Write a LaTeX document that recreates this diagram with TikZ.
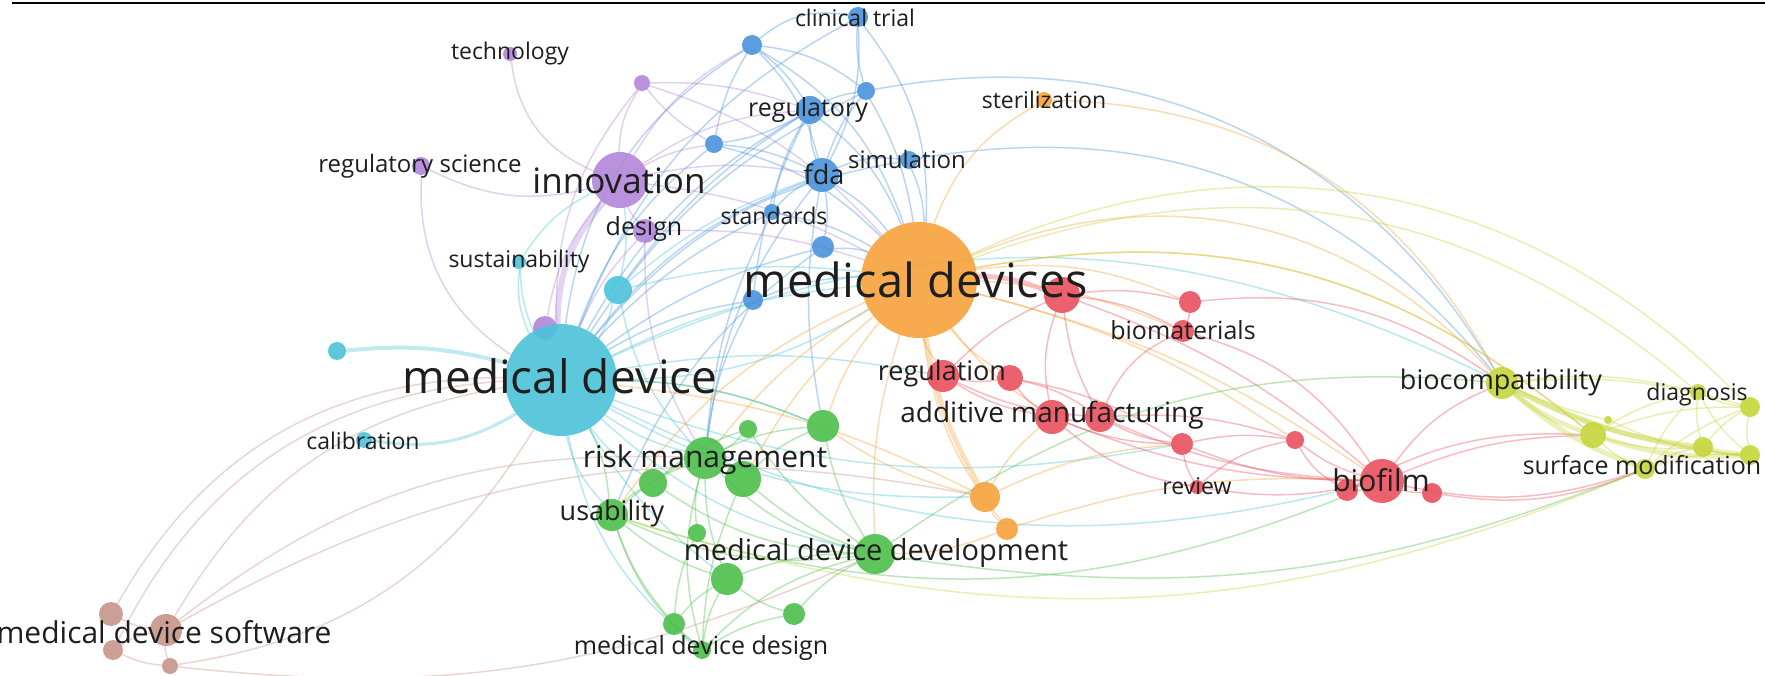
\documentclass[tikz,border=0pt]{standalone}
\usepackage{fontspec}
\setmainfont{Open Sans}
\usetikzlibrary{calc}
\definecolor{ink}{HTML}{1E1E1E}
\definecolor{cya}{HTML}{4CC3D9}
\definecolor{ora}{HTML}{F7A23B}
\definecolor{pur}{HTML}{B286D9}
\definecolor{blu}{HTML}{4A93DB}
\definecolor{red}{HTML}{E9505E}
\definecolor{gre}{HTML}{4DBE4B}
\definecolor{yel}{HTML}{C6D53A}
\definecolor{bro}{HTML}{C7958A}
\pgfdeclarelayer{edges}
\pgfsetlayers{edges,main}
\newcommand\fsz[1]{\fontsize{#1}{#1}\selectfont}
\tikzset{
  kw/.style={circle, inner sep=0pt, draw=none, fill opacity=0.9},
  lab/.style={text=ink, inner sep=0pt},
  link/.style={line width=1.5pt, draw opacity=0.38, line cap=round},
  heavy/.style={link, line width=5pt, draw opacity=0.35},
}

\begin{document}
\begin{tikzpicture}[x=1pt,y=-1pt]
  \useasboundingbox (0,0) rectangle (1765,676);
  % keywords, one loop per cluster
  \foreach \n/\px/\py/\r in {tech/510/54/7,psm/642/83/8,regsci/421/166/9,innov/620/180/28,design/645/231/12,ppk/545/328/12}
    \node[kw, fill=pur, minimum size=\r*2pt] (\n) at (\px,\py) {};
  \foreach \n/\px/\py/\r in {clin/858/17/10,btop/752/45/10,bb2/866/91/9,regul/810/110/14,bb3/714/144/9,fda/822/175/17,simul/909/160/9,stand/772/212/8,bb4/823/247/11,bb5/753/300/10}
    \node[kw, fill=blu, minimum size=\r*2pt] (\n) at (\px,\py) {};
  \foreach \n/\px/\py/\r in {md/561/380/56,sust/519/262/7,cc1/618/290/14,cleft/337/351/9,calib/364/440/8}
    \node[kw, fill=cya, minimum size=\r*2pt] (\n) at (\px,\py) {};
  \foreach \n/\px/\py/\r in {mds/919/280/58,steril/1044/100/8,oo1/985/497/15,oo2/1007/529/11}
    \node[kw, fill=ora, minimum size=\r*2pt] (\n) at (\px,\py) {};
  \foreach \n/\px/\py/\r in {rr1/1062/295/18,rr2/1190/302/11,biomat/1183/331/11,regn/943/376/16,rr3/1010/378/13,addm/1052/417/17,rr4/1100/417/15,rr5/1182/444/11,rr6/1295/440/9,review/1197/487/7,biof/1382/481/22,rr7/1347/490/11,rr8/1432/493/10}
    \node[kw, fill=red, minimum size=\r*2pt] (\n) at (\px,\py) {};
  \foreach \n/\px/\py/\r in {gg1/823/426/16,gg2/748/429/9,risk/705/458/21,gg3/743/479/18,gg4/653/483/14,usab/612/515/16,gg5/697/533/9,mdd/875/554/20,gg6/727/579/16,gg7/794/614/11,gg8/674/624/11,mddes/702/650/9}
    \node[kw, fill=gre, minimum size=\r*2pt] (\n) at (\px,\py) {};
  \foreach \n/\px/\py/\r in {biocomp/1502/383/16,diag/1698/392/8,yy1/1750/407/10,yy2/1593/435/13,yy3/1703/447/10,yy4/1750/455/10,surf/1645/469/10,yy5/1608/420/4}
    \node[kw, fill=yel, minimum size=\r*2pt] (\n) at (\px,\py) {};
  \foreach \n/\px/\py/\r in {bw1/111/614/12,mdsw/166/630/16,bw2/113/650/10,bw3/170/666/8}
    \node[kw, fill=bro, minimum size=\r*2pt] (\n) at (\px,\py) {};

  \begin{pgfonlayer}{edges}
    \fill[white] (0,0) rectangle (1765,676);
    % purple
    \draw[heavy, draw=pur, line width=6pt] (innov) to[bend right=20] (md);
    \foreach \a/\b/\t in {tech/innov/30,regsci/innov/20,regsci/md/30,psm/innov/15,psm/regul/-10,psm/md/20,psm/mds/-15,psm/bb3/10,innov/design/10,innov/fda/-10,innov/mds/-10,innov/regul/-15,innov/btop/-15,innov/bb3/-10,design/md/10,design/mds/-10,design/risk/15,ppk/md/10,ppk/innov/-15}
      \draw[link, draw=pur] (\a) to[bend right=\t] (\b);
    % blue
    \foreach \a/\b/\t in {clin/btop/25,clin/fda/-15,clin/mds/-20,clin/md/20,clin/bb2/10,btop/regul/-10,btop/fda/-15,btop/md/25,btop/mds/-20,btop/bb2/-15,btop/bb3/10,bb2/regul/10,bb2/fda/10,bb2/mds/-10,bb2/md/15,bb2/biocomp/-35,regul/fda/10,regul/md/15,regul/mds/-15,regul/stand/10,regul/bb3/-10,regul/bb5/10,regul/cc1/10,bb3/fda/-10,bb3/md/15,bb3/mds/-15,fda/mds/-10,fda/md/15,fda/stand/10,fda/bb4/-10,fda/simul/-15,fda/gg1/10,fda/risk/15,simul/mds/-10,simul/md/20,simul/biocomp/-30,stand/md/10,stand/mds/-10,stand/risk/10,bb4/md/10,bb4/mds/-10,bb4/usab/15,bb5/md/10,bb5/mds/-10,bb5/risk/10}
      \draw[link, draw=blu] (\a) to[bend right=\t] (\b);
    % cyan
    \draw[heavy, draw=cya, line width=4pt] (md) to[bend right=10] (cleft);
    \draw[heavy, draw=cya, line width=3pt] (md) to[bend right=-20] (calib);
    \foreach \a/\b/\t in {md/sust/-15,md/cc1/10,md/mds/-10,md/mds/15,md/risk/10,md/usab/15,md/mdd/15,md/mddes/20,md/gg4/10,md/gg6/10,md/oo1/15,md/rr5/15,md/biof/20,md/biocomp/-25,md/gg1/-10,md/regn/-10,cc1/mds/-10,cc1/innov/10,cc1/risk/15,cc1/fda/-10,sust/innov/-15,sust/md/10}
      \draw[link, draw=cya] (\a) to[bend right=\t] (\b);
    % orange
    \draw[heavy, draw=red] (mds) to[bend right=-10] (rr1);
    \draw[heavy, draw=ora] (mds) to[bend right=10] (oo1);
    \foreach \a/\b/\t in {mds/regn/10,mds/addm/10,mds/oo2/15,mds/steril/-20,mds/biomat/-10,mds/rr2/-15,mds/gg1/10,mds/risk/10,mds/mdd/10,mds/rr3/10,mds/biof/-10,mds/rr6/-10,mds/biocomp/-35,mds/yy2/-25,mds/usab/15,mds/gg3/10,oo1/oo2/10,oo1/md/10,oo1/addm/-10,oo1/rr5/-10,oo1/gg1/-10,oo2/mdd/-10,oo2/biof/-10,steril/biocomp/-30}
      \draw[link, draw=ora] (\a) to[bend right=\t] (\b);
    % red
    \foreach \a/\b/\t in {rr1/addm/15,rr1/biomat/-10,rr1/regn/10,rr1/rr2/-10,rr1/biof/-10,rr1/rr4/10,regn/rr3/10,regn/addm/10,regn/rr4/10,rr3/addm/10,rr3/rr4/-10,rr3/rr5/-10,addm/rr4/10,addm/rr5/10,addm/review/15,addm/biof/10,rr4/rr5/10,rr4/biomat/-20,rr4/rr6/-10,rr4/biof/10,rr5/review/10,rr5/rr6/-10,rr5/biof/10,review/rr6/-15,rr6/biof/10,rr6/rr7/15,biomat/biof/-20,biomat/rr2/10,biof/rr7/10,biof/rr8/10,biof/biocomp/-15,biof/surf/15,biof/yy2/-10,rr8/surf/15,rr7/yy2/-15,rr2/biocomp/-20,review/biof/10}
      \draw[link, draw=red] (\a) to[bend right=\t] (\b);
    % green
    \foreach \a/\b/\t in {risk/gg3/10,risk/gg4/10,risk/usab/10,risk/mdd/15,risk/gg6/10,risk/mddes/15,risk/gg1/-10,risk/gg2/10,risk/gg5/10,gg1/mdd/10,gg1/md/10,gg1/gg3/10,gg2/mdd/10,gg2/gg4/10,usab/gg6/10,usab/mddes/15,usab/gg8/10,usab/mdd/15,usab/md/10,mdd/gg6/10,mdd/gg7/10,mdd/mddes/15,mdd/biocomp/-20,mdd/surf/15,gg6/gg7/10,gg6/gg8/10,gg6/mddes/10,gg8/mddes/10,gg7/mddes/10,gg3/mdd/10,gg4/mdd/15,gg5/gg8/10,gg4/usab/10,gg3/mddes/10,usab/biof/20}
      \draw[link, draw=gre] (\a) to[bend right=\t] (\b);
    % brown
    \foreach \a/\b/\t in {bw1/md/-30,mdsw/md/-25,bw2/md/-30,bw3/md/25,mdsw/oo1/-20,mdsw/risk/-20,bw1/mdsw/10,mdsw/bw2/10,mdsw/bw3/10,bw2/bw3/10,bw3/mdd/15}
      \draw[link, draw=bro] (\a) to[bend right=\t] (\b);
    % yellow
    \foreach \a/\b in {biocomp/yy2,biocomp/surf,biocomp/yy4,yy2/yy4,biocomp/yy3}
      \draw[heavy, draw=yel] (\a) to[bend right=10] (\b);
    \foreach \a/\b/\t in {biocomp/diag/-10,biocomp/yy1/-10,biocomp/yy5/5,yy2/diag/-10,yy2/yy1/-10,yy2/yy3/10,yy2/surf/10,diag/yy1/10,diag/yy3/10,diag/yy4/10,diag/surf/10,yy1/yy3/10,yy1/yy4/10,yy1/surf/10,yy3/yy4/10,yy3/surf/10,yy4/surf/10,yy5/yy4/10,yy2/mds/25,diag/mds/30,yy1/mds/35,surf/usab/-20}
      \draw[link, draw=yel] (\a) to[bend right=\t] (\b);
  \end{pgfonlayer}

  % labels
  \foreach \n/\txt/\sz/\px/\py in {tech/technology/23/510/54,regsci/regulatory science/24/420/166,innov/innovation/35/619/181,design/design/25/644/229,sust/sustainability/23/519/262,clin/clinical trial/23/855/18,regul/regulatory/25/808/110,fda/fda/27/824/174,simul/simulation/24/907/160,steril/sterilization/23/1044/100,stand/standards/23/774/216,mds/medical devices/47/916/280,md/medical device/46/560/376,calib/calibration/23/363/441,biomat/biomaterials/25/1183/330,regn/regulation/27/942/373,addm/additive manufacturing/28/1052/415,review/review/23/1197/486,biof/biofilm/30/1381/480,biocomp/biocompatibility/27/1501/382,diag/diagnosis/23/1697/395,surf/surface modification/25/1642/465,risk/risk management/30/705/460,usab/usability/27/612/513,mdd/medical device development/29/876/553,mddes/medical device design/25/701/648,mdsw/medical device software/30/164/632}
    \node[lab, font=\fsz{\sz}] (l-\n) at (\px,\py) {\txt};
  \draw[line width=2.5pt, black] (12,3) -- (1765,3);
\end{tikzpicture}
\end{document}
